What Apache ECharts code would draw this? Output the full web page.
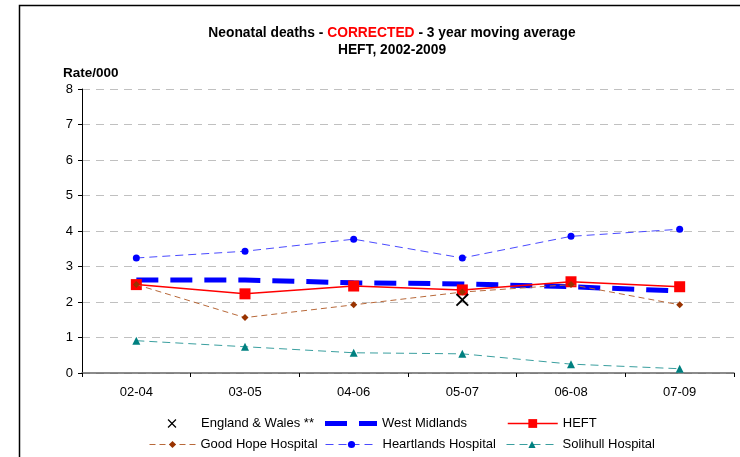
<!DOCTYPE html>
<html>
<head>
<meta charset="utf-8">
<script src="https://cdn.jsdelivr.net/npm/echarts@6/dist/echarts.min.js"></script>
<style>
  html, body { margin: 0; padding: 0; background: #fff; }
  #chart { width: 740px; height: 457px; }
</style>
</head>
<body>
<div id="chart"></div>
<script>
// periods (3 year moving average)
var periods = ['02-04', '03-05', '04-06', '05-07', '06-08', '07-09'];

// rates per 1000
var englandWales  = [null, null, null, 2.06, null, null];
var westMidlands  = [2.62, 2.62, 2.54, 2.51, 2.43, 2.31];
var heft          = [2.49, 2.23, 2.45, 2.34, 2.57, 2.43];
var goodHope      = [2.49, 1.56, 1.92, 2.28, 2.49, 1.92];
var heartlands    = [3.24, 3.43, 3.77, 3.24, 3.85, 4.05];
var solihull      = [0.91, 0.74, 0.57, 0.54, 0.25, 0.12];

var FONT = 'Liberation Sans, Arial, sans-serif';
var crossPath = 'path://M0,1L1,0L5,4L9,0L10,1L6,5L10,9L9,10L5,6L1,10L0,9L4,5Z';
var wmIcon = 'path://M0,0H22V5H0ZM34,0H52V5H34Z';

var myChart = echarts.init(document.getElementById('chart'));

function legendAt(item, left, top, w, h, lw) {
    var lg = {
        data: [item],
        left: left,
        top: top,
        padding: 0,
        itemWidth: w,
        itemHeight: h,
        itemGap: 0,
        textStyle: { fontFamily: FONT, fontSize: 13, color: '#000' },
        selectedMode: false
    };
    if (lw) lg.lineStyle = { width: lw };
    return lg;
}

myChart.setOption({
    animation: false,
    backgroundColor: '#fff',
    graphic: [{
        type: 'rect',
        left: 17, top: 3,
        shape: { width: 760, height: 470 },
        style: { fill: 'none', stroke: '#000', lineWidth: 1.5 }
    }],
    title: {
        text: '{b|Neonatal deaths - }{r|CORRECTED}{b| - 3 year moving average}\n{b|HEFT, 2002-2009}',
        left: 387,
        top: 20,
        textAlign: 'center',
        textStyle: {
            rich: {
                b: { fontFamily: FONT, fontSize: 13.8, fontWeight: 'bold', color: '#000', lineHeight: 17 },
                r: { fontFamily: FONT, fontSize: 13.8, fontWeight: 'bold', color: '#ff0000', lineHeight: 17 }
            }
        }
    },
    // legend rows
    legend: [
        legendAt('England & Wales **', 148, 417, 48, 11),
        legendAt({ name: 'West Midlands', icon: wmIcon }, 325, 417, 52, 5),
        legendAt('HEFT', 507, 417, 50, 11, 1.5),
        legendAt('Good Hope Hospital', 149, 438, 46, 9, 1),
        legendAt('Heartlands Hospital', 325, 438, 52, 9, 1),
        legendAt('Solihull Hospital', 506, 438, 51, 9, 1)
    ],
    grid: {
        left: 82,
        right: 6,
        top: 89,
        bottom: 84,
        containLabel: false
    },
    // X轴
    xAxis: {
        type: 'category',
        boundaryGap: true,
        data: periods,
        axisLine: { lineStyle: { color: '#666', width: 1.5 } },
        axisTick: { show: true, inside: false, length: 4, lineStyle: { color: '#000' } },
        axisLabel: { color: '#000', fontFamily: FONT, fontSize: 13, margin: 13 }
    },
    // Y轴
    yAxis: {
        type: 'value',
        min: 0,
        max: 8,
        interval: 1,
        name: 'Rate/000',
        nameLocation: 'end',
        nameGap: 9,
        nameTextStyle: { fontFamily: FONT, fontSize: 13.5, fontWeight: 'bold', color: '#000', align: 'left', padding: [0, 0, 0, -19] },
        axisLine: { show: true, lineStyle: { color: '#000', width: 1 } },
        axisTick: { show: true, length: 4, lineStyle: { color: '#000' } },
        axisLabel: { color: '#000', fontFamily: FONT, fontSize: 13, margin: 9 },
        splitLine: { show: true, lineStyle: { color: '#c0c0c0', type: [8, 6], width: 1 } }
    },
    series: [{
        name: 'England & Wales **',
        type: 'line',
        data: englandWales,
        symbol: crossPath,
        symbolSize: 13,
        z: 10,
        itemStyle: { color: '#000' },
        lineStyle: { width: 0, opacity: 0 }
    }, {
        name: 'West Midlands',
        type: 'line',
        data: westMidlands,
        showSymbol: false,
        symbol: 'none',
        z: 2,
        itemStyle: { color: '#0000ff' },
        lineStyle: { color: '#0000ff', width: 5, type: [22, 12] }
    }, {
        name: 'HEFT',
        type: 'line',
        data: heft,
        symbol: 'rect',
        symbolSize: 11,
        z: 3,
        itemStyle: { color: '#ff0000' },
        lineStyle: { color: '#ff0000', width: 1.5 }
    }, {
        name: 'Good Hope Hospital',
        type: 'line',
        data: goodHope,
        symbol: 'diamond',
        symbolSize: 7,
        z: 4,
        itemStyle: { color: '#993300' },
        lineStyle: { color: '#b8693a', width: 1, type: [6, 4] }
    }, {
        name: 'Heartlands Hospital',
        type: 'line',
        data: heartlands,
        symbol: 'circle',
        symbolSize: 7,
        z: 4,
        itemStyle: { color: '#0000ff' },
        lineStyle: { color: '#4a4aff', width: 1, type: [8, 5] }
    }, {
        name: 'Solihull Hospital',
        type: 'line',
        data: solihull,
        symbol: 'triangle',
        symbolSize: 8,
        z: 4,
        itemStyle: { color: '#008080' },
        lineStyle: { color: '#3a9f9f', width: 1, type: [8, 5] }
    }]
});
</script>
</body>
</html>
